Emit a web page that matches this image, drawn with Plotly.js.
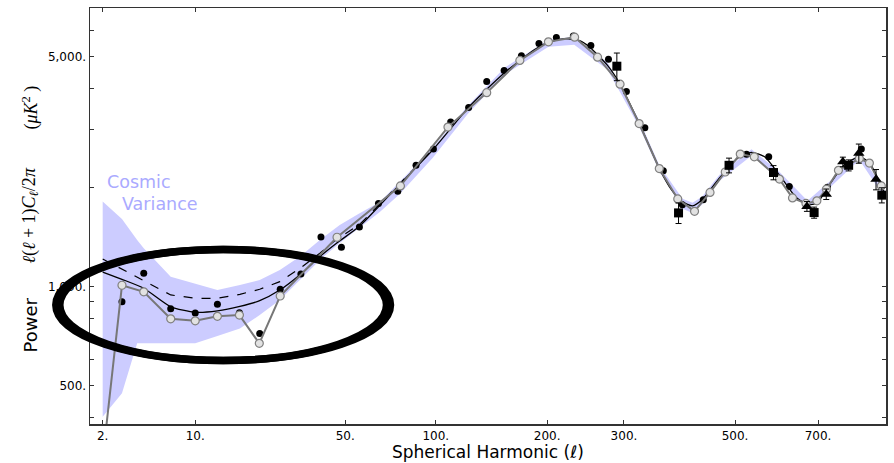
<!DOCTYPE html>
<html>
<head>
<meta charset="utf-8">
<script src="https://cdn.plot.ly/plotly-3.0.1.min.js"></script>
<style>html,body{margin:0;padding:0;background:#fff;}#chart{width:894px;height:463px;}</style>
</head>
<body>
<div id="chart"></div>
<script>
// ---- Data (multipole l, power in uK^2) ----
const bandL  = [2, 3, 4, 4.5, 7, 10, 13.4, 17.6, 22, 27.2, 33.2, 40, 47.7, 56.2, 66.3, 77.2, 98, 124, 156, 201.5, 232, 276.4, 324, 356.4, 396.6, 415, 433, 467.7, 536, 601, 672, 731, 818, 899];
const bandHi = [1813, 1606, 1387, 1309, 1072, 1023, 977, 1012, 1048, 1124, 1234, 1387, 1540, 1669, 1809, 2081, 2640, 3542, 4621, 5621, 5740, 4786, 3189, 2328, 1848, 1797, 1874, 2186, 2612, 2232, 1822, 2081, 2549, 1944];
const bandLo = [403, 475, 673, 673, 673, 673, 709, 747, 820, 911, 1048, 1206, 1358, 1508, 1687, 1913, 2462, 3349, 4399, 5353, 5428, 4557, 3037, 2232, 1723, 1675, 1772, 2096, 2496, 2140, 1723, 1995, 2427, 1847];

const modelL = [2, 3, 4.5, 7, 10, 13.4, 17.6, 22, 27.2, 33.5, 40, 46.4, 56.2, 66.3, 77.2, 98, 124, 139.8, 156, 170.7, 186.3, 201.5, 220.3, 238.8, 252, 276.4, 294.2, 324, 356.4, 377.1, 396.6, 415, 433, 467.7, 509.7, 536, 566, 601, 639, 672, 698, 731, 774, 818, 849, 899];
const modelP = [1108, 1053, 989, 869, 836, 844, 871, 907, 977, 1093, 1234, 1355, 1522, 1766, 2045, 2603, 3485, 3976, 4463, 4853, 5242, 5525, 5660, 5582, 5333, 4687, 4118, 3112, 2279, 1968, 1809, 1759, 1835, 2140, 2479, 2557, 2479, 2186, 1887, 1772, 1797, 2037, 2344, 2479, 2377, 1900];

const altL = [2, 3.1, 4.5, 7, 10, 13.4, 17.6, 22, 27.2, 33.2, 40, 46.4, 56.2, 66.3, 77.2, 98];
const altP = [1214, 1124, 1048, 944, 922, 922, 948, 982, 1036, 1137, 1264, 1393, 1540, 1780, 2055, 2610];

const dotsL = [3, 4.5, 7, 10, 13.4, 17.5, 22, 27.3, 33.5, 40.4, 48.4, 56.3, 65.6, 76.1, 87, 98.4, 110.7, 124.6, 139.8, 155.6, 172.5, 190.9, 210.5, 230.9, 253.4, 277.5, 303.6, 332.3, 362.8, 396.3, 435.5, 525, 575.6, 625.5, 725.9, 824];
const dotsP = [900, 1098, 857, 832, 884, 834, 721, 983, 1093, 1416, 1318, 1519, 1788, 1950, 2339, 2616, 3160, 3500, 4200, 4532, 5025, 5473, 5708, 5772, 5397, 4899, 3911, 3037, 2250, 1772, 1835, 2522, 2479, 2016, 2005, 2616];

const openL = [2, 3, 4.5, 7, 10, 13.4, 17.5, 21.9, 27.3, 46.6, 77.6, 108.7, 139.8, 170.9, 201.4, 232.5, 262.4, 294.2, 323.2, 356, 388, 418.8, 448.7, 479.5, 511.3, 542.3, 601.2, 633.5, 668, 697, 723, 756.7, 818, 848.6, 886];
const openP = [300, 1010, 965, 799, 788, 813, 820, 673, 937, 1413, 2023, 3051, 3880, 4863, 5537, 5721, 4974, 4118, 3128, 2284, 1847, 1693, 1933, 2229, 2527, 2479, 2122, 1860, 1790, 1822, 1977, 2255, 2449, 2372, 2023];

const sqL   = [289.5, 389.4, 487.4, 586.9, 689.6, 786.2, 887.6];
const sqP   = [4670, 1675, 2336, 2221, 1679, 2336, 1896];
const sqErr = [450, 120, 120, 110, 65, 90, 100];

const triL   = [670.6, 722.5, 769.4, 816.4, 869.3];
const triP   = [1753, 1909, 2393, 2540, 2118];
const triErr = [60, 70, 80, 170, 150];

const tickL    = [2, 10, 50, 100, 200, 300, 500, 700];
const tickLText = ['2.', '10.', '50.', '100.', '200.', '300.', '500.', '700.'];
const tickP     = [400, 500, 600, 700, 800, 900, 1000, 2000, 3000, 4000, 5000, 6000];
const tickPText = ['', '500.', '', '', '', '', '1,000.', '', '', '', '5,000.', ''];

// x axis of the reference is a power-law (l^0.3) scale
const sx = l => Math.pow(l, 0.3);

const traces = [
  { x: bandL.map(sx).concat(bandL.slice().reverse().map(sx)),
    y: bandHi.concat(bandLo.slice().reverse()),
    mode: 'lines', fill: 'toself', fillcolor: 'rgb(204,204,255)',
    line: { width: 0, color: 'rgba(0,0,0,0)' }, hoverinfo: 'skip' },
  { x: altL.map(sx), y: altP, mode: 'lines',
    line: { color: '#000', width: 1.2, dash: 'dash' } },
  { x: modelL.map(sx), y: modelP, mode: 'lines',
    line: { color: '#000', width: 1.3, shape: 'spline', smoothing: 0.6 } },
  { x: dotsL.map(sx), y: dotsP, mode: 'markers',
    marker: { color: '#000', size: 7 } },
  { x: openL.map(sx), y: openP, mode: 'lines+markers',
    line: { color: '#777', width: 2 },
    marker: { color: '#e2e2e2', size: 8, line: { color: '#808080', width: 1.2 } } },
  { x: sqL.map(sx), y: sqP, mode: 'markers',
    marker: { color: '#000', size: 9, symbol: 'square' },
    error_y: { type: 'data', array: sqErr, color: '#000', thickness: 1, width: 3 } },
  { x: triL.map(sx), y: triP, mode: 'markers',
    marker: { color: '#000', size: 10, symbol: 'triangle-up' },
    error_y: { type: 'data', array: triErr, color: '#000', thickness: 1, width: 3 } }
];

const axisCommon = {
  showgrid: false, zeroline: false, showline: true, linecolor: '#333', linewidth: 1.5,
  mirror: 'ticks', ticks: 'inside', ticklen: 4, tickcolor: '#333',
  tickfont: { family: 'DejaVu Sans', size: 12, color: '#000' }
};

const layout = {
  width: 894, height: 463,
  margin: { l: 90, r: 8, t: 8, b: 39 },
  paper_bgcolor: '#fff', plot_bgcolor: '#fff',
  showlegend: false,
  xaxis: Object.assign({}, axisCommon, {
    range: [sx(1.487), sx(901)],
    tickmode: 'array', tickvals: tickL.map(sx), ticktext: tickLText
  }),
  yaxis: Object.assign({}, axisCommon, {
    type: 'log', range: [2.5832, 3.846],
    tickmode: 'array', tickvals: tickP, ticktext: tickPText
  }),
  shapes: [
    { type: 'circle', xref: 'paper', yref: 'paper',
      x0: -0.04296, x1: 0.37751, y0: 0.15264, y1: 0.41947,
      line: { color: '#000', width: 7.5 }, layer: 'above' },
    { type: 'circle', xref: 'paper', yref: 'paper',
      x0: -0.03794, x1: 0.37249, y0: 0.15264, y1: 0.41947,
      line: { color: '#000', width: 7.5 }, layer: 'above' }
  ],
  annotations: [
    { text: 'Cosmic', xref: 'paper', yref: 'paper', x: 0.0185, y: 0.5825,
      xanchor: 'left', yanchor: 'middle', showarrow: false,
      font: { family: 'DejaVu Sans', size: 17.5, color: '#aaaaff' } },
    { text: 'Variance', xref: 'paper', yref: 'paper', x: 0.038, y: 0.5288,
      xanchor: 'left', yanchor: 'middle', showarrow: false,
      font: { family: 'DejaVu Sans', size: 17.5, color: '#aaaaff' } },
    { text: 'Spherical Harmonic (<i>ℓ</i>)', xref: 'paper', yref: 'paper', x: 0.5, y: -0.0673,
      xanchor: 'center', yanchor: 'middle', showarrow: false,
      font: { family: 'DejaVu Sans', size: 17, color: '#000' } },
    { text: 'Power', xref: 'paper', yref: 'paper', x: -0.0747, y: 0.238, textangle: -90,
      xanchor: 'center', yanchor: 'middle', showarrow: false,
      font: { family: 'DejaVu Sans', size: 18, color: '#000' } },
    { text: '<i>ℓ</i>(<i>ℓ</i> + 1)<i>C</i><sub><i>ℓ</i></sub>/2<i>π</i>', xref: 'paper', yref: 'paper',
      x: -0.0753, y: 0.5012, textangle: -90,
      xanchor: 'center', yanchor: 'middle', showarrow: false,
      font: { family: 'Liberation Serif', size: 18, color: '#000' } },
    { text: '(<i>μK</i><sup>2</sup> )', xref: 'paper', yref: 'paper',
      x: -0.0753, y: 0.7608, textangle: -90,
      xanchor: 'center', yanchor: 'middle', showarrow: false,
      font: { family: 'Liberation Serif', size: 18, color: '#000' } }
  ]
};

Plotly.newPlot('chart', traces, layout, { staticPlot: true, displayModeBar: false });
</script>
</body>
</html>
